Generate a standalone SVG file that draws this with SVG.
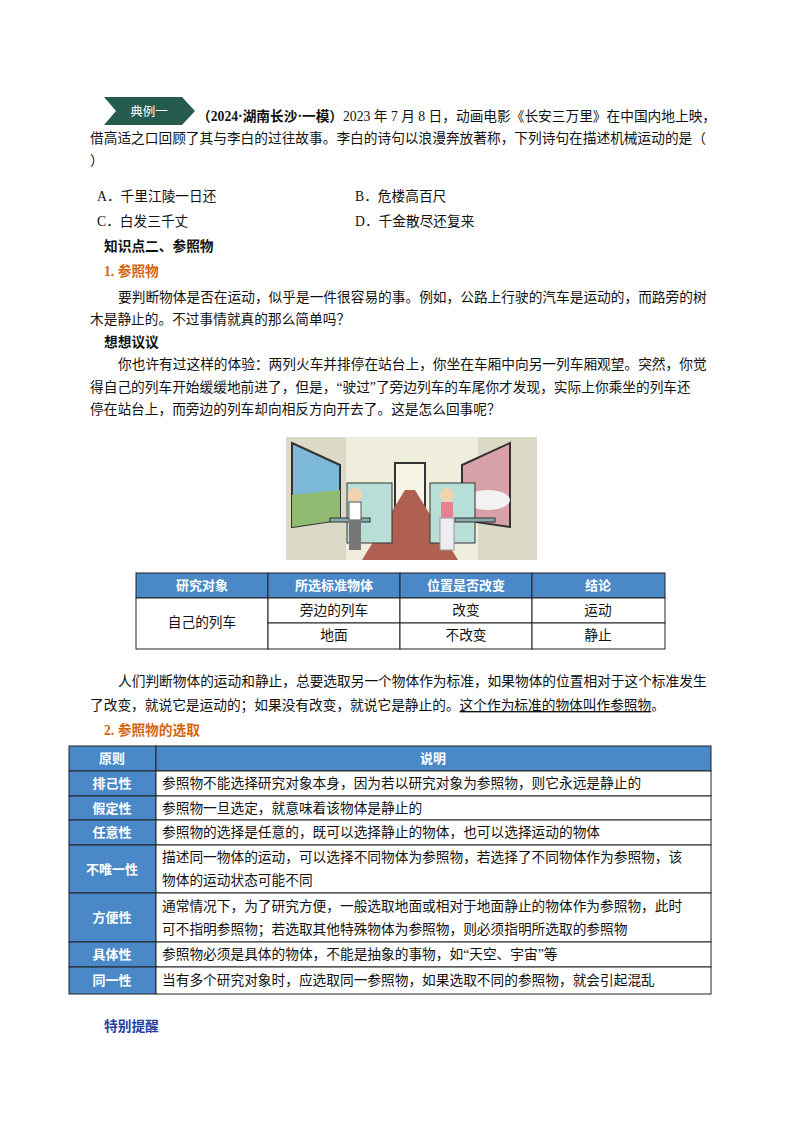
<svg xmlns="http://www.w3.org/2000/svg" width="800" height="1132" viewBox="0 0 800 1132">
<style>
text{font-family:"Liberation Serif","Noto Sans CJK SC",serif;font-size:13.7px;fill:#111}
.b{font-weight:bold}
.o{fill:#d4650f;font-weight:bold}
.bl{fill:#1f3fa8;font-weight:bold}
.h{fill:#fff;font-weight:bold;font-family:"Liberation Sans","Noto Sans CJK SC",sans-serif;font-size:13px}
.c{text-anchor:middle}
.cell{fill:#fff;stroke:#222;stroke-width:1}
.hd{fill:#4a88c8;stroke:#222;stroke-width:1}
</style>
<rect width="800" height="1132" fill="#fff"/>
<g id="badge"><polygon points="104,97 182,97 195,111 182,125 104,125 116,111" fill="#255c4e"/><text x="149" y="116" class="c" style="fill:#fff;font-size:12.5px">典例一</text></g>
<g transform="translate(0,4)">
<text x="197" y="117"><tspan class="b">（2024·湖南长沙·一模）</tspan>2023 年 7 月 8 日，动画电影《长安三万里》在中国内地上映，</text>
<text x="90" y="139">借高适之口回顾了其与李白的过往故事。李白的诗句以浪漫奔放著称，下列诗句在描述机械运动的是（</text>
<text x="90" y="161">）</text>
<text x="97" y="197">A．千里江陵一日还</text><text x="355" y="197">B．危楼高百尺</text>
<text x="97" y="222">C．白发三千丈</text><text x="355" y="222">D．千金散尽还复来</text>
<text x="104" y="247" class="b">知识点二、参照物</text>
<text x="104" y="272" class="o">1. 参照物</text>
<text x="118" y="298">要判断物体是否在运动，似乎是一件很容易的事。例如，公路上行驶的汽车是运动的，而路旁的树</text>
<text x="90" y="320">木是静止的。不过事情就真的那么简单吗？</text>
<text x="104" y="343" class="b">想想议议</text>
<text x="118" y="365">你也许有过这样的体验：两列火车并排停在站台上，你坐在车厢中向另一列车厢观望。突然，你觉</text>
<text x="90" y="388">得自己的列车开始缓缓地前进了，但是，“驶过”了旁边列车的车尾你才发现，实际上你乘坐的列车还</text>
<text x="90" y="410">停在站台上，而旁边的列车却向相反方向开去了。这是怎么回事呢？</text>
<text x="118" y="682">人们判断物体的运动和静止，总要选取另一个物体作为标准，如果物体的位置相对于这个标准发生</text>
<text x="90" y="706">了改变，就说它是运动的；如果没有改变，就说它是静止的。<tspan text-decoration="underline">这个作为标准的物体叫作参照物</tspan>。</text>
<text x="104" y="731" class="o">2. 参照物的选取</text>
<text x="104" y="1027" class="bl">特别提醒</text>
</g>
<g id="picture">
<rect x="286" y="437" width="251" height="123" fill="#efeedd"/>
<rect x="286" y="437" width="60" height="123" fill="#dcdac6"/>
<rect x="478" y="437" width="59" height="123" fill="#dcdac6"/>
<polygon points="292,443 340,465 340,520 292,527" fill="#7cb8d8" stroke="#333" stroke-width="2"/>
<polygon points="292,495 340,490 340,520 292,527" fill="#8fba70"/>
<polygon points="462,465 510,443 510,527 462,520" fill="#d8a0a8" stroke="#333" stroke-width="2"/>
<ellipse cx="488" cy="500" rx="22" ry="10" fill="#f2f2f2"/>
<rect x="395" y="463" width="30" height="75" fill="#f6f4e4" stroke="#333" stroke-width="2"/>
<polygon points="362,560 405,490 415,490 458,560" fill="#b06050"/>
<rect x="347" y="483" width="45" height="60" fill="#b8ded8" stroke="#333"/>
<rect x="430" y="483" width="45" height="60" fill="#b8ded8" stroke="#333"/>
<rect x="330" y="518" width="40" height="4" fill="#8aa" stroke="#333"/>
<rect x="455" y="518" width="40" height="4" fill="#8aa" stroke="#333"/>
<circle cx="355" cy="495" r="7" fill="#f3d2b0"/><rect x="349" y="502" width="12" height="18" fill="#fff" stroke="#555"/><rect x="349" y="520" width="12" height="30" fill="#777"/>
<circle cx="447" cy="495" r="7" fill="#f3d2b0"/><rect x="441" y="502" width="12" height="16" fill="#e88090"/><rect x="440" y="518" width="14" height="32" fill="#eee" stroke="#999"/>
</g>
<g id="table1">
<rect x="136" y="573" width="132" height="25" class="hd"/><rect x="268" y="573" width="132" height="25" class="hd"/><rect x="400" y="573" width="132" height="25" class="hd"/><rect x="532" y="573" width="133" height="25" class="hd"/>
<text x="202" y="590" class="h c">研究对象</text><text x="334" y="590" class="h c">所选标准物体</text><text x="466" y="590" class="h c">位置是否改变</text><text x="598" y="590" class="h c">结论</text>
<rect x="136" y="598" width="132" height="51" class="cell"/>
<rect x="268" y="598" width="132" height="25" class="cell"/><rect x="400" y="598" width="132" height="25" class="cell"/><rect x="532" y="598" width="133" height="25" class="cell"/>
<rect x="268" y="623" width="132" height="26" class="cell"/><rect x="400" y="623" width="132" height="26" class="cell"/><rect x="532" y="623" width="133" height="26" class="cell"/>
<text x="202" y="627" class="c">自己的列车</text>
<text x="334" y="615" class="c">旁边的列车</text><text x="466" y="615" class="c">改变</text><text x="598" y="615" class="c">运动</text>
<text x="334" y="640" class="c">地面</text><text x="466" y="640" class="c">不改变</text><text x="598" y="640" class="c">静止</text>
</g>
<g id="table2">
<rect x="69" y="746" width="87" height="25" class="hd"/><rect x="156" y="746" width="555" height="25" class="hd"/>
<text x="112" y="763" class="h c">原则</text><text x="433" y="763" class="h c">说明</text>
<rect x="69" y="771" width="87" height="25" class="hd"/><rect x="156" y="771" width="555" height="25" class="cell"/>
<rect x="69" y="796" width="87" height="24" class="hd"/><rect x="156" y="796" width="555" height="24" class="cell"/>
<rect x="69" y="820" width="87" height="25" class="hd"/><rect x="156" y="820" width="555" height="25" class="cell"/>
<rect x="69" y="845" width="87" height="48" class="hd"/><rect x="156" y="845" width="555" height="48" class="cell"/>
<rect x="69" y="893" width="87" height="49" class="hd"/><rect x="156" y="893" width="555" height="49" class="cell"/>
<rect x="69" y="942" width="87" height="25" class="hd"/><rect x="156" y="942" width="555" height="25" class="cell"/>
<rect x="69" y="967" width="87" height="27" class="hd"/><rect x="156" y="967" width="555" height="27" class="cell"/>
<text x="112" y="788" class="h c">排己性</text><text x="112" y="813" class="h c">假定性</text><text x="112" y="837" class="h c">任意性</text>
<text x="112" y="874" class="h c">不唯一性</text><text x="112" y="922" class="h c">方便性</text><text x="112" y="959" class="h c">具体性</text><text x="112" y="985" class="h c">同一性</text>
<text x="162" y="788">参照物不能选择研究对象本身，因为若以研究对象为参照物，则它永远是静止的</text>
<text x="162" y="813">参照物一旦选定，就意味着该物体是静止的</text>
<text x="162" y="837">参照物的选择是任意的，既可以选择静止的物体，也可以选择运动的物体</text>
<text x="162" y="862">描述同一物体的运动，可以选择不同物体为参照物，若选择了不同物体作为参照物，该</text>
<text x="162" y="885">物体的运动状态可能不同</text>
<text x="162" y="911">通常情况下，为了研究方便，一般选取地面或相对于地面静止的物体作为参照物，此时</text>
<text x="162" y="934">可不指明参照物；若选取其他特殊物体为参照物，则必须指明所选取的参照物</text>
<text x="162" y="959">参照物必须是具体的物体，不能是抽象的事物，如“天空、宇宙”等</text>
<text x="162" y="985">当有多个研究对象时，应选取同一参照物，如果选取不同的参照物，就会引起混乱</text>
</g>
</svg>
